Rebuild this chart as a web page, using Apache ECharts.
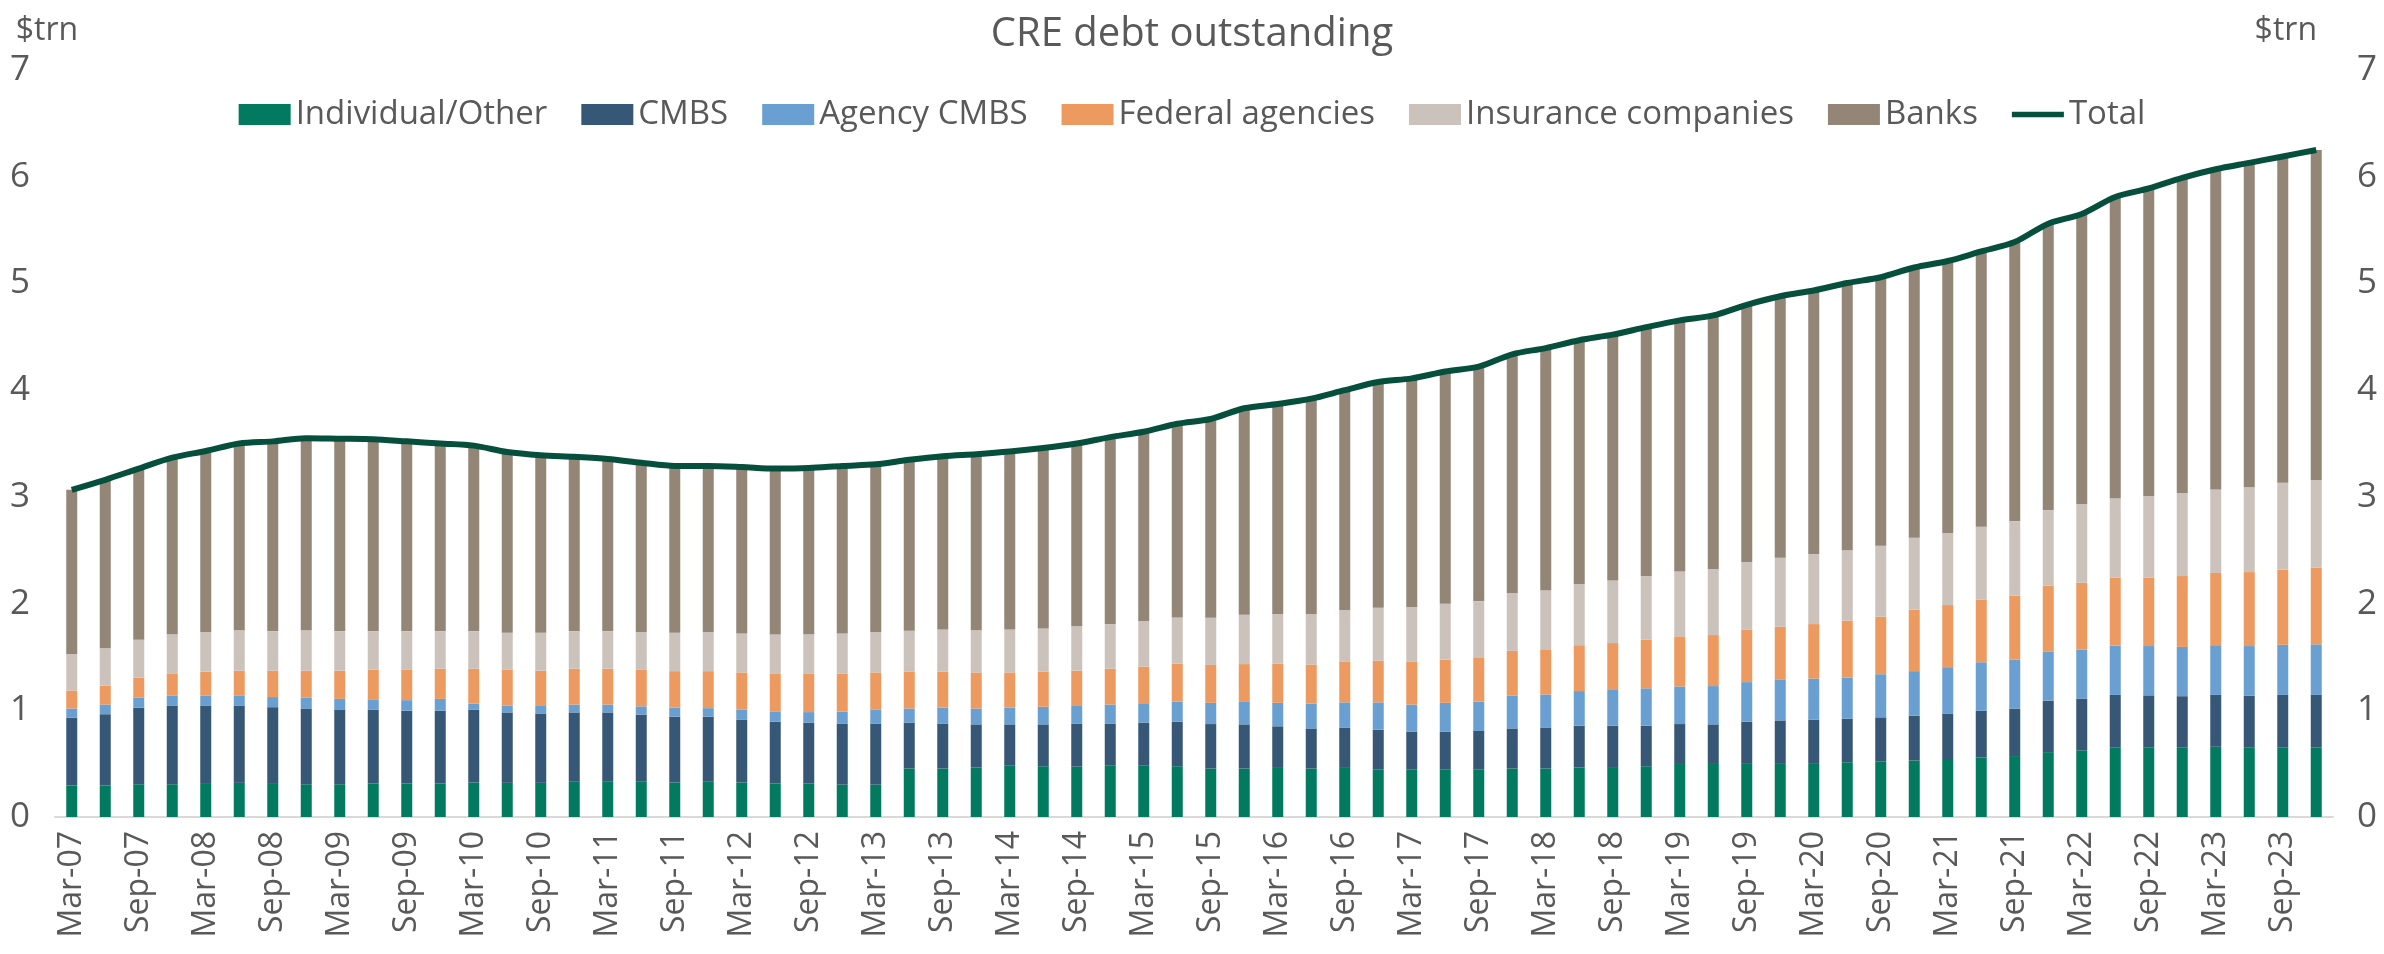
<!DOCTYPE html>
<html>
<head>
<meta charset="utf-8">
<title>CRE debt outstanding</title>
<script src="https://cdn.jsdelivr.net/npm/echarts@6/dist/echarts.min.js"></script>
<style>
  html, body { margin: 0; padding: 0; background: #fff; }
  #chart { width: 2384px; height: 954px; }
</style>
</head>
<body>
<div id="chart"></div>
<script>
// quarters Mar-07 .. Dec-23
var months = ['Mar', 'Jun', 'Sep', 'Dec'];
var years = ['07','08','09','10','11','12','13','14','15','16','17','18','19','20','21','22','23'];
var categories = [];
years.forEach(function (y) {
    months.forEach(function (m) { categories.push(m + '-' + y); });
});

// $trn
var individual = [0.295,0.295,0.307,0.307,0.310,0.320,0.310,0.307,0.307,0.315,0.315,0.315,0.324,0.320,0.320,0.330,0.330,0.330,0.324,0.330,0.324,0.315,0.315,0.303,0.303,0.455,0.455,0.464,0.485,0.476,0.472,0.485,0.485,0.476,0.455,0.455,0.460,0.455,0.460,0.447,0.443,0.443,0.443,0.455,0.455,0.464,0.468,0.476,0.497,0.497,0.505,0.505,0.505,0.513,0.522,0.530,0.534,0.557,0.571,0.608,0.625,0.649,0.649,0.649,0.658,0.649,0.649,0.653];
var cmbs = [0.635,0.668,0.718,0.738,0.735,0.725,0.719,0.710,0.701,0.689,0.681,0.681,0.680,0.660,0.650,0.650,0.650,0.630,0.616,0.610,0.586,0.578,0.570,0.573,0.573,0.430,0.421,0.404,0.383,0.392,0.404,0.391,0.400,0.417,0.416,0.413,0.390,0.375,0.375,0.371,0.355,0.355,0.363,0.375,0.384,0.392,0.388,0.380,0.374,0.371,0.388,0.400,0.408,0.408,0.412,0.420,0.436,0.438,0.445,0.482,0.485,0.495,0.491,0.483,0.486,0.487,0.495,0.491];
var agencyCmbs = [0.087,0.091,0.095,0.091,0.091,0.095,0.095,0.103,0.099,0.099,0.099,0.111,0.058,0.065,0.070,0.074,0.074,0.077,0.085,0.080,0.098,0.097,0.098,0.111,0.128,0.132,0.149,0.149,0.157,0.165,0.164,0.178,0.181,0.189,0.199,0.210,0.220,0.232,0.239,0.256,0.256,0.272,0.276,0.306,0.309,0.324,0.334,0.350,0.352,0.359,0.371,0.380,0.384,0.384,0.404,0.417,0.434,0.455,0.458,0.458,0.459,0.462,0.462,0.462,0.466,0.466,0.470,0.474];
var federal = [0.169,0.177,0.185,0.210,0.227,0.231,0.247,0.251,0.264,0.277,0.288,0.283,0.328,0.338,0.331,0.336,0.336,0.346,0.342,0.347,0.347,0.356,0.363,0.355,0.351,0.346,0.338,0.338,0.330,0.330,0.331,0.336,0.344,0.354,0.355,0.355,0.367,0.367,0.384,0.392,0.404,0.404,0.408,0.421,0.417,0.430,0.440,0.457,0.470,0.478,0.490,0.498,0.511,0.536,0.540,0.577,0.582,0.585,0.602,0.619,0.627,0.635,0.639,0.664,0.677,0.693,0.702,0.718];
var insurance = [0.342,0.350,0.355,0.367,0.371,0.379,0.371,0.379,0.371,0.362,0.359,0.352,0.352,0.343,0.355,0.352,0.352,0.351,0.359,0.367,0.365,0.364,0.367,0.378,0.379,0.383,0.395,0.395,0.403,0.404,0.416,0.418,0.427,0.434,0.441,0.462,0.466,0.474,0.482,0.494,0.511,0.524,0.533,0.543,0.561,0.570,0.586,0.595,0.607,0.619,0.636,0.647,0.656,0.659,0.665,0.673,0.676,0.685,0.697,0.709,0.738,0.747,0.767,0.779,0.783,0.795,0.816,0.821];
var banks = [1.538,1.579,1.605,1.654,1.696,1.750,1.778,1.800,1.803,1.798,1.778,1.758,1.738,1.694,1.664,1.633,1.613,1.586,1.564,1.556,1.560,1.555,1.557,1.570,1.571,1.601,1.622,1.650,1.667,1.691,1.713,1.752,1.773,1.815,1.864,1.935,1.967,2.017,2.060,2.116,2.141,2.177,2.197,2.236,2.268,2.288,2.304,2.332,2.354,2.376,2.410,2.450,2.470,2.504,2.515,2.532,2.548,2.580,2.615,2.684,2.716,2.822,2.882,2.953,3.000,3.040,3.058,3.093];
var total = [3.066,3.160,3.265,3.367,3.430,3.500,3.520,3.550,3.545,3.540,3.520,3.500,3.480,3.420,3.390,3.375,3.355,3.320,3.290,3.290,3.280,3.265,3.270,3.290,3.305,3.347,3.380,3.400,3.425,3.458,3.500,3.560,3.610,3.685,3.730,3.830,3.870,3.920,4.000,4.076,4.110,4.175,4.220,4.336,4.394,4.468,4.520,4.590,4.654,4.700,4.800,4.880,4.934,5.004,5.058,5.149,5.210,5.300,5.388,5.560,5.650,5.810,5.890,5.990,6.070,6.130,6.190,6.250];

var font = 'Open Sans';
var grey = '#595959';
var lineColor = '#054f3c';

function barSeries(name, values, color) {
    return {
        name: name,
        type: 'bar',
        stack: 'debt',
        barWidth: 11,
        data: values,
        itemStyle: { color: color },
        emphasis: { disabled: true }
    };
}

var option = {
    animation: false,
    textStyle: { fontFamily: font, color: grey },
    title: {
        text: 'CRE debt outstanding',
        left: 'center',
        top: 10,
        textStyle: { fontFamily: font, fontSize: 40, fontWeight: 'normal', color: grey }
    },
    legend: {
        top: 93,
        left: 'center',
        itemWidth: 52,
        itemHeight: 21,
        itemGap: 34,
        icon: 'rect',
        textStyle: { fontFamily: font, fontSize: 33, color: grey },
        data: [
            'Individual/Other', 'CMBS', 'Agency CMBS', 'Federal agencies', 'Insurance companies', 'Banks',
            { name: 'Total', icon: 'path://M0,0 L10,0 L10,1.1 L0,1.1 Z', itemStyle: { color: lineColor } }
        ]
    },
    grid: { left: 55, right: 51, top: 70, bottom: 137, containLabel: false },
    xAxis: {
        type: 'category',
        data: categories,
        boundaryGap: true,
        axisLine: { lineStyle: { color: '#d9d9d9', width: 2 } },
        axisTick: { interval: 1, alignWithLabel: true, length: 12, lineStyle: { color: '#d9d9d9', width: 2 } },
        axisLabel: { interval: 1, rotate: 90, margin: 14, fontFamily: font, fontSize: 32, color: grey }
    },
    yAxis: [
        {
            type: 'value',
            min: 0, max: 7, interval: 1,
            name: '$trn',
            nameLocation: 'end',
            nameGap: 23,
            nameTextStyle: { fontFamily: font, fontSize: 32, color: grey, align: 'center', padding: [0, 16, 0, 0] },
            axisLine: { show: false },
            axisTick: { show: false },
            splitLine: { show: false },
            axisLabel: { margin: 25, fontFamily: font, fontSize: 35, color: grey }
        },
        {
            type: 'value',
            min: 0, max: 7, interval: 1,
            position: 'right',
            name: '$trn',
            nameLocation: 'end',
            nameGap: 23,
            nameTextStyle: { fontFamily: font, fontSize: 32, color: grey, align: 'right', padding: [0, 16, 0, 0] },
            axisLine: { show: false },
            axisTick: { show: false },
            splitLine: { show: false },
            axisLabel: { margin: 24, fontFamily: font, fontSize: 35, color: grey }
        }
    ],
    series: [
        barSeries('Individual/Other', individual, '#017a5f'),
        barSeries('CMBS', cmbs, '#365775'),
        barSeries('Agency CMBS', agencyCmbs, '#6a9fd1'),
        barSeries('Federal agencies', federal, '#ec9a5f'),
        barSeries('Insurance companies', insurance, '#cbc2bb'),
        barSeries('Banks', banks, '#938677'),
        {
            name: 'Total',
            type: 'line',
            data: total,
            smooth: 0.3,
            symbol: 'none',
            z: 5,
            lineStyle: { color: lineColor, width: 6 },
            itemStyle: { color: lineColor },
            emphasis: { disabled: true }
        }
    ]
};

echarts.init(document.getElementById('chart')).setOption(option);
</script>
</body>
</html>
